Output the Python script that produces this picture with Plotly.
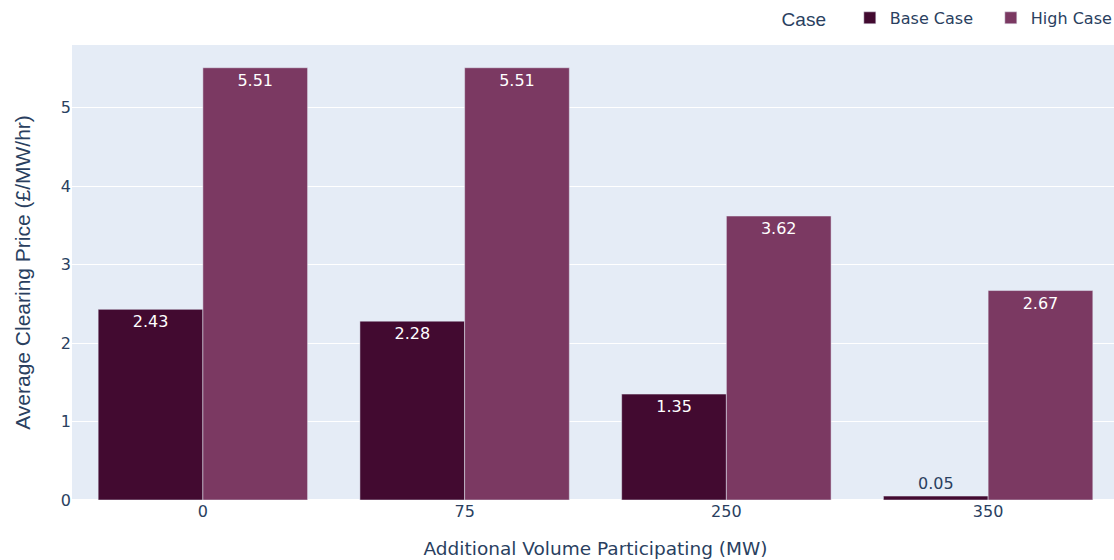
import plotly.graph_objects as go

categories = ["0", "75", "250", "350"]
base_case = [2.43, 2.28, 1.35, 0.05]
high_case = [5.51, 5.51, 3.62, 2.67]

MAIN_FONT = "DejaVu Sans, Verdana, sans-serif"
TITLE_FONT = "Liberation Sans, Arial, sans-serif"

fig = go.Figure()
fig.add_trace(go.Bar(name="Base Case", x=categories, y=base_case, text=base_case,
                     marker_color="#420a30", textposition="auto"))
fig.add_trace(go.Bar(name="High Case", x=categories, y=high_case, text=high_case,
                     marker_color="#7b3962", textposition="auto"))

fig.update_layout(
    template="plotly",
    width=1119, height=560,
    barmode="group",
    margin=dict(l=72, r=0, t=45, b=60, autoexpand=False),
    font=dict(family=MAIN_FONT, size=16),
    legend=dict(title=dict(text="Case   ", font=dict(family=TITLE_FONT, size=19)), orientation="h",
                yanchor="bottom", y=1.02, xanchor="right", x=1.013, font=dict(size=16),
                entrywidth=96, entrywidthmode="pixels"),
    xaxis=dict(type="category",
               title=dict(text="Additional Volume Participating (MW)", font=dict(size=18.5),
                          standoff=22)),
    yaxis=dict(title=dict(text="Average Clearing Price (£/MW/hr)",
                          font=dict(family=TITLE_FONT, size=21), standoff=24)),
)
fig.update_traces(textfont_size=16)
fig.write_html("out.html", config={"displayModeBar": False},
               post_script="document.body.style.margin='0';document.body.style.overflow='hidden';")
